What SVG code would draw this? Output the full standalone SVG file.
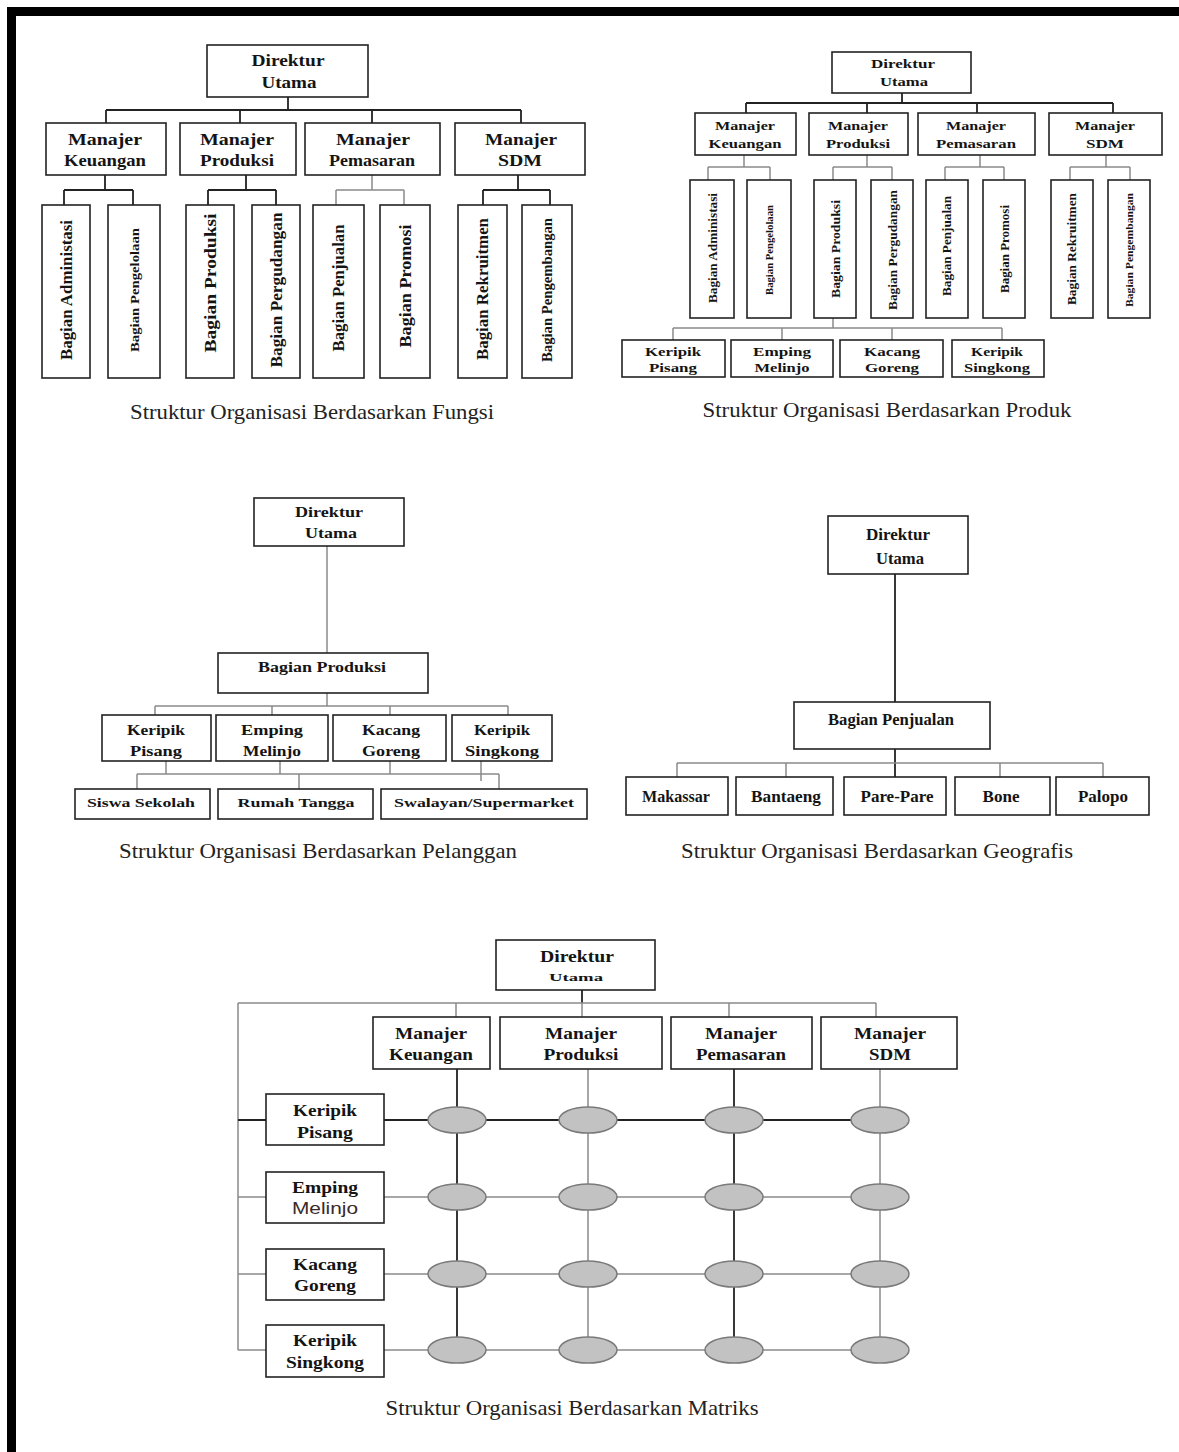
<svg xmlns="http://www.w3.org/2000/svg" width="1179" height="1452" viewBox="0 0 1179 1452">
<style>
.box{fill:#fff;stroke:#222;stroke-width:1.6}
.t{font-family:"Liberation Serif",serif;font-weight:bold;fill:#141414;text-anchor:middle}
.cap{font-family:"Liberation Serif",serif;font-size:21px;fill:#222;text-anchor:middle}
.ln{stroke:#222;stroke-width:1.8;fill:none}
.lg{stroke:#8a8a8a;stroke-width:1.5;fill:none}
.ell{fill:#c2c2c2;stroke:#7a7a7a;stroke-width:1.5}
</style>
<rect width="1179" height="1452" fill="#fff"/>
<rect x="7" y="7" width="1172" height="9" fill="#000"/>
<rect x="7" y="7" width="9" height="1445" fill="#000"/>

<g id="connectors">
<!-- Fungsi -->
<path class="ln" d="M288 97V110M106 110H521M106 110V123M240 110V123M372 110V123M521 110V123"/>
<path class="ln" d="M105 175V190M64 190H133M64 190V205M133 190V205"/>
<path class="ln" d="M246 175V190M208 190H276M208 190V205M276 190V205"/>
<path class="lg" d="M372 175V190M336 190H404M336 190V205M404 190V205"/>
<path class="ln" d="M518 175V190M483 190H550M483 190V205M550 190V205"/>
<!-- Produk -->
<path class="ln" d="M902 93V103M746 103H1113M746 103V113M867 103V113M977 103V113M1113 103V113"/>
<path class="lg" d="M744 155V167M708 167H770M708 167V180M770 167V180"/>
<path class="lg" d="M867 155V167M833 167H892M833 167V180M892 167V180"/>
<path class="lg" d="M980 155V167M945 167H1004M945 167V180M1004 167V180"/>
<path class="lg" d="M1106 155V167M1070 167H1130M1070 167V180M1130 167V180"/>
<path class="lg" d="M833 318V328M673 328H1002M673 328V340M782 328V340M892 328V340M1002 328V340"/>
<!-- Pelanggan -->
<path class="lg" d="M327 546V653M327 693V706M155 706H508M155 706V715M272 706V715M390 706V715M508 706V715"/>
<path class="lg" d="M166 761V774M280 761V774M390 761V774M481 761V781M137 774H499M137 774V789M299 774V789M499 774V789"/>
<!-- Geografis -->
<path class="ln" d="M895 574V702M895 749V777"/>
<path class="lg" d="M677 763H1103M677 763V777M786 763V777M1000 763V777M1103 763V777"/>
<!-- Matriks -->
<path class="ln" d="M582 990V1003"/>
<path class="lg" d="M238 1003H876M238 1003V1350M456 1003V1017M729 1003V1017M876 1003V1017M582 1003V1017"/>
<path class="ln" d="M238 1120H266M384 1120H880"/>
<path class="lg" d="M238 1197H266M384 1197H880M238 1274H266M384 1274H880M238 1350H266M384 1350H880"/>
<path class="ln" d="M457 1069V1350M734 1069V1350"/>
<path class="lg" d="M588 1069V1350M880 1069V1350"/>
</g>

<!-- ===== Fungsi ===== -->
<g id="f-dir"><rect class="box" x="207" y="45" width="161" height="52"/>
<text class="t" font-size="16" x="288" y="66" textLength="73" lengthAdjust="spacingAndGlyphs">Direktur</text>
<text class="t" font-size="16" x="289" y="88" textLength="55" lengthAdjust="spacingAndGlyphs">Utama</text></g>
<g id="f-keu"><rect class="box" x="46" y="123" width="120" height="52"/>
<text class="t" font-size="17" x="105" y="145" textLength="74" lengthAdjust="spacingAndGlyphs">Manajer</text>
<text class="t" font-size="17" x="105" y="166" textLength="82" lengthAdjust="spacingAndGlyphs">Keuangan</text></g>
<g id="f-prod"><rect class="box" x="180" y="123" width="116" height="52"/>
<text class="t" font-size="17" x="237" y="145" textLength="74" lengthAdjust="spacingAndGlyphs">Manajer</text>
<text class="t" font-size="17" x="237" y="166" textLength="74" lengthAdjust="spacingAndGlyphs">Produksi</text></g>
<g id="f-pem"><rect class="box" x="305" y="123" width="135" height="52"/>
<text class="t" font-size="17" x="373" y="145" textLength="74" lengthAdjust="spacingAndGlyphs">Manajer</text>
<text class="t" font-size="17" x="372" y="166" textLength="86" lengthAdjust="spacingAndGlyphs">Pemasaran</text></g>
<g id="f-sdm"><rect class="box" x="455" y="123" width="130" height="52"/>
<text class="t" font-size="17" x="521" y="145" textLength="72" lengthAdjust="spacingAndGlyphs">Manajer</text>
<text class="t" font-size="17" x="520" y="166" textLength="44" lengthAdjust="spacingAndGlyphs">SDM</text></g>

<g id="f-adm"><rect class="box" x="42" y="205" width="48" height="173"/>
<text class="t" font-size="17" transform="translate(66,290) rotate(-90)" y="6" textLength="140" lengthAdjust="spacingAndGlyphs">Bagian Administasi</text></g>
<g id="f-pgl"><rect class="box" x="108" y="205" width="52" height="173"/>
<text class="t" font-size="13" transform="translate(134,290) rotate(-90)" y="5" textLength="124" lengthAdjust="spacingAndGlyphs">Bagian Pengelolaan</text></g>
<g id="f-pro"><rect class="box" x="186" y="205" width="48" height="173"/>
<text class="t" font-size="17" transform="translate(210,283) rotate(-90)" y="6" textLength="139" lengthAdjust="spacingAndGlyphs">Bagian Produksi</text></g>
<g id="f-pgd"><rect class="box" x="252" y="205" width="48" height="173"/>
<text class="t" font-size="16" transform="translate(276,290) rotate(-90)" y="6" textLength="155" lengthAdjust="spacingAndGlyphs">Bagian Pergudangan</text></g>
<g id="f-pnj"><rect class="box" x="313" y="205" width="51" height="173"/>
<text class="t" font-size="16" transform="translate(338,288) rotate(-90)" y="6" textLength="127" lengthAdjust="spacingAndGlyphs">Bagian Penjualan</text></g>
<g id="f-prm"><rect class="box" x="380" y="205" width="50" height="173"/>
<text class="t" font-size="17" transform="translate(405,286) rotate(-90)" y="6" textLength="123" lengthAdjust="spacingAndGlyphs">Bagian Promosi</text></g>
<g id="f-rek"><rect class="box" x="458" y="205" width="49" height="173"/>
<text class="t" font-size="16" transform="translate(482,289) rotate(-90)" y="6" textLength="142" lengthAdjust="spacingAndGlyphs">Bagian Rekruitmen</text></g>
<g id="f-pgb"><rect class="box" x="522" y="205" width="50" height="173"/>
<text class="t" font-size="14" transform="translate(547,290) rotate(-90)" y="5" textLength="144" lengthAdjust="spacingAndGlyphs">Bagian Pengembangan</text></g>
<text class="cap" x="312" y="419" textLength="364" lengthAdjust="spacingAndGlyphs">Struktur Organisasi Berdasarkan Fungsi</text>

<!-- ===== Produk ===== -->
<g id="p-dir"><rect class="box" x="832" y="52" width="139" height="41"/>
<text class="t" font-size="13" x="903" y="68" textLength="64" lengthAdjust="spacingAndGlyphs">Direktur</text>
<text class="t" font-size="13" x="904" y="86" textLength="48" lengthAdjust="spacingAndGlyphs">Utama</text></g>
<g id="p-keu"><rect class="box" x="695" y="113" width="101" height="42"/>
<text class="t" font-size="12" x="745" y="130" textLength="60" lengthAdjust="spacingAndGlyphs">Manajer</text>
<text class="t" font-size="13" x="745" y="148" textLength="73" lengthAdjust="spacingAndGlyphs">Keuangan</text></g>
<g id="p-prod"><rect class="box" x="809" y="113" width="99" height="42"/>
<text class="t" font-size="12" x="858" y="130" textLength="60" lengthAdjust="spacingAndGlyphs">Manajer</text>
<text class="t" font-size="13" x="858" y="148" textLength="64" lengthAdjust="spacingAndGlyphs">Produksi</text></g>
<g id="p-pem"><rect class="box" x="918" y="113" width="117" height="42"/>
<text class="t" font-size="12" x="976" y="130" textLength="60" lengthAdjust="spacingAndGlyphs">Manajer</text>
<text class="t" font-size="13" x="976" y="148" textLength="80" lengthAdjust="spacingAndGlyphs">Pemasaran</text></g>
<g id="p-sdm"><rect class="box" x="1049" y="113" width="113" height="42"/>
<text class="t" font-size="12" x="1105" y="130" textLength="60" lengthAdjust="spacingAndGlyphs">Manajer</text>
<text class="t" font-size="13" x="1105" y="148" textLength="38" lengthAdjust="spacingAndGlyphs">SDM</text></g>

<g id="p-adm"><rect class="box" x="690" y="180" width="44" height="138"/>
<text class="t" font-size="13" transform="translate(712,248) rotate(-90)" y="5" textLength="110" lengthAdjust="spacingAndGlyphs">Bagian Administasi</text></g>
<g id="p-pgl"><rect class="box" x="747" y="180" width="44" height="138"/>
<text class="t" font-size="10" transform="translate(769,250) rotate(-90)" y="4" textLength="90" lengthAdjust="spacingAndGlyphs">Bagian Pengelolaan</text></g>
<g id="p-pro"><rect class="box" x="814" y="180" width="42" height="138"/>
<text class="t" font-size="13" transform="translate(835,249) rotate(-90)" y="5" textLength="98" lengthAdjust="spacingAndGlyphs">Bagian Produksi</text></g>
<g id="p-pgd"><rect class="box" x="871" y="180" width="42" height="138"/>
<text class="t" font-size="13" transform="translate(892,250) rotate(-90)" y="5" textLength="120" lengthAdjust="spacingAndGlyphs">Bagian Pergudangan</text></g>
<g id="p-pnj"><rect class="box" x="926" y="180" width="42" height="138"/>
<text class="t" font-size="12" transform="translate(947,246) rotate(-90)" y="4" textLength="100" lengthAdjust="spacingAndGlyphs">Bagian Penjualan</text></g>
<g id="p-prm"><rect class="box" x="983" y="180" width="42" height="138"/>
<text class="t" font-size="13" transform="translate(1004,249) rotate(-90)" y="5" textLength="88" lengthAdjust="spacingAndGlyphs">Bagian Promosi</text></g>
<g id="p-rek"><rect class="box" x="1051" y="180" width="42" height="138"/>
<text class="t" font-size="12" transform="translate(1072,249) rotate(-90)" y="4" textLength="112" lengthAdjust="spacingAndGlyphs">Bagian Rekruitmen</text></g>
<g id="p-pgb"><rect class="box" x="1108" y="180" width="42" height="138"/>
<text class="t" font-size="10" transform="translate(1129,250) rotate(-90)" y="4" textLength="114" lengthAdjust="spacingAndGlyphs">Bagian Pengembangan</text></g>

<g id="p-kp"><rect class="box" x="622" y="340" width="103" height="37"/>
<text class="t" font-size="13" x="673" y="356" textLength="56" lengthAdjust="spacingAndGlyphs">Keripik</text>
<text class="t" font-size="13" x="673" y="372" textLength="48" lengthAdjust="spacingAndGlyphs">Pisang</text></g>
<g id="p-em"><rect class="box" x="731" y="340" width="102" height="37"/>
<text class="t" font-size="13" x="782" y="356" textLength="58" lengthAdjust="spacingAndGlyphs">Emping</text>
<text class="t" font-size="13" x="782" y="372" textLength="55" lengthAdjust="spacingAndGlyphs">Melinjo</text></g>
<g id="p-kg"><rect class="box" x="840" y="340" width="103" height="37"/>
<text class="t" font-size="13" x="892" y="356" textLength="56" lengthAdjust="spacingAndGlyphs">Kacang</text>
<text class="t" font-size="13" x="892" y="372" textLength="54" lengthAdjust="spacingAndGlyphs">Goreng</text></g>
<g id="p-ks"><rect class="box" x="952" y="340" width="92" height="37"/>
<text class="t" font-size="13" x="997" y="356" textLength="52" lengthAdjust="spacingAndGlyphs">Keripik</text>
<text class="t" font-size="13" x="997" y="372" textLength="66" lengthAdjust="spacingAndGlyphs">Singkong</text></g>
<text class="cap" x="887" y="417" textLength="369" lengthAdjust="spacingAndGlyphs">Struktur Organisasi Berdasarkan Produk</text>

<!-- ===== Pelanggan ===== -->
<g id="c-dir"><rect class="box" x="254" y="498" width="150" height="48"/>
<text class="t" font-size="15" x="329" y="517" textLength="68" lengthAdjust="spacingAndGlyphs">Direktur</text>
<text class="t" font-size="15" x="331" y="538" textLength="52" lengthAdjust="spacingAndGlyphs">Utama</text></g>
<g id="c-bp"><rect class="box" x="218" y="653" width="210" height="40"/>
<text class="t" font-size="15" x="322" y="672" textLength="128" lengthAdjust="spacingAndGlyphs">Bagian Produksi</text></g>
<g id="c-kp"><rect class="box" x="102" y="715" width="109" height="46"/>
<text class="t" font-size="15" x="156" y="735" textLength="58" lengthAdjust="spacingAndGlyphs">Keripik</text>
<text class="t" font-size="15" x="156" y="756" textLength="52" lengthAdjust="spacingAndGlyphs">Pisang</text></g>
<g id="c-em"><rect class="box" x="216" y="715" width="112" height="46"/>
<text class="t" font-size="15" x="272" y="735" textLength="62" lengthAdjust="spacingAndGlyphs">Emping</text>
<text class="t" font-size="15" x="272" y="756" textLength="58" lengthAdjust="spacingAndGlyphs">Melinjo</text></g>
<g id="c-kg"><rect class="box" x="333" y="715" width="113" height="46"/>
<text class="t" font-size="15" x="391" y="735" textLength="58" lengthAdjust="spacingAndGlyphs">Kacang</text>
<text class="t" font-size="15" x="391" y="756" textLength="58" lengthAdjust="spacingAndGlyphs">Goreng</text></g>
<g id="c-ks"><rect class="box" x="452" y="715" width="100" height="46"/>
<text class="t" font-size="15" x="502" y="735" textLength="56" lengthAdjust="spacingAndGlyphs">Keripik</text>
<text class="t" font-size="15" x="502" y="756" textLength="74" lengthAdjust="spacingAndGlyphs">Singkong</text></g>
<g id="c-ss"><rect class="box" x="75" y="789" width="135" height="30"/>
<text class="t" font-size="13" x="141" y="807" textLength="108" lengthAdjust="spacingAndGlyphs">Siswa Sekolah</text></g>
<g id="c-rt"><rect class="box" x="218" y="789" width="155" height="30"/>
<text class="t" font-size="13" x="296" y="807" textLength="117" lengthAdjust="spacingAndGlyphs">Rumah Tangga</text></g>
<g id="c-sw"><rect class="box" x="381" y="789" width="206" height="30"/>
<text class="t" font-size="13" x="484" y="807" textLength="180" lengthAdjust="spacingAndGlyphs">Swalayan/Supermarket</text></g>
<text class="cap" x="318" y="858" textLength="398" lengthAdjust="spacingAndGlyphs">Struktur Organisasi Berdasarkan Pelanggan</text>

<!-- ===== Geografis ===== -->
<g id="g-dir"><rect class="box" x="828" y="516" width="140" height="58"/>
<text class="t" font-size="16" x="898" y="540" textLength="64" lengthAdjust="spacingAndGlyphs">Direktur</text>
<text class="t" font-size="16" x="900" y="564" textLength="48" lengthAdjust="spacingAndGlyphs" font-weight="normal">Utama</text></g>
<g id="g-bp"><rect class="box" x="794" y="702" width="196" height="47"/>
<text class="t" font-size="16" x="891" y="725" textLength="126" lengthAdjust="spacingAndGlyphs">Bagian Penjualan</text></g>
<g id="g-mk"><rect class="box" x="626" y="777" width="102" height="38"/>
<text class="t" font-size="17" x="676" y="802" textLength="68" lengthAdjust="spacingAndGlyphs">Makassar</text></g>
<g id="g-bt"><rect class="box" x="736" y="777" width="97" height="38"/>
<text class="t" font-size="17" x="786" y="802" textLength="70" lengthAdjust="spacingAndGlyphs">Bantaeng</text></g>
<g id="g-pp"><rect class="box" x="844" y="777" width="102" height="38"/>
<text class="t" font-size="17" x="897" y="802" textLength="73" lengthAdjust="spacingAndGlyphs">Pare-Pare</text></g>
<g id="g-bn"><rect class="box" x="955" y="777" width="95" height="38"/>
<text class="t" font-size="17" x="1001" y="802" textLength="37" lengthAdjust="spacingAndGlyphs">Bone</text></g>
<g id="g-pl"><rect class="box" x="1056" y="777" width="93" height="38"/>
<text class="t" font-size="17" x="1103" y="802" textLength="50" lengthAdjust="spacingAndGlyphs">Palopo</text></g>
<text class="cap" x="877" y="858" textLength="392" lengthAdjust="spacingAndGlyphs">Struktur Organisasi Berdasarkan Geografis</text>

<!-- ===== Matriks ===== -->
<g id="m-dir"><rect class="box" x="496" y="940" width="159" height="50"/>
<text class="t" font-size="17" x="577" y="962" textLength="74" lengthAdjust="spacingAndGlyphs">Direktur</text>
<text class="t" font-size="11" x="576" y="981" textLength="54" lengthAdjust="spacingAndGlyphs">Utama</text></g>
<g id="m-keu"><rect class="box" x="373" y="1017" width="117" height="52"/>
<text class="t" font-size="17" x="431" y="1039" textLength="72" lengthAdjust="spacingAndGlyphs">Manajer</text>
<text class="t" font-size="17" x="431" y="1060" textLength="84" lengthAdjust="spacingAndGlyphs">Keuangan</text></g>
<g id="m-prod"><rect class="box" x="500" y="1017" width="162" height="52"/>
<text class="t" font-size="17" x="581" y="1039" textLength="72" lengthAdjust="spacingAndGlyphs">Manajer</text>
<text class="t" font-size="17" x="581" y="1060" textLength="75" lengthAdjust="spacingAndGlyphs">Produksi</text></g>
<g id="m-pem"><rect class="box" x="671" y="1017" width="141" height="52"/>
<text class="t" font-size="17" x="741" y="1039" textLength="72" lengthAdjust="spacingAndGlyphs">Manajer</text>
<text class="t" font-size="17" x="741" y="1060" textLength="90" lengthAdjust="spacingAndGlyphs">Pemasaran</text></g>
<g id="m-sdm"><rect class="box" x="821" y="1017" width="136" height="52"/>
<text class="t" font-size="17" x="890" y="1039" textLength="72" lengthAdjust="spacingAndGlyphs">Manajer</text>
<text class="t" font-size="17" x="890" y="1060" textLength="42" lengthAdjust="spacingAndGlyphs">SDM</text></g>

<g id="m-kp"><rect class="box" x="266" y="1094" width="118" height="51"/>
<text class="t" font-size="17" x="325" y="1116" textLength="64" lengthAdjust="spacingAndGlyphs">Keripik</text>
<text class="t" font-size="17" x="325" y="1138" textLength="56" lengthAdjust="spacingAndGlyphs">Pisang</text></g>
<g id="m-em"><rect class="box" x="266" y="1172" width="118" height="51"/>
<text class="t" font-size="17" x="325" y="1193" textLength="66" lengthAdjust="spacingAndGlyphs">Emping</text>
<text x="325" y="1214" font-family="'Liberation Sans',Arial,sans-serif" font-size="17" fill="#3a2a2a" text-anchor="middle" textLength="66" lengthAdjust="spacingAndGlyphs">Melinjo</text></g>
<g id="m-kg"><rect class="box" x="266" y="1249" width="118" height="51"/>
<text class="t" font-size="17" x="325" y="1270" textLength="64" lengthAdjust="spacingAndGlyphs">Kacang</text>
<text class="t" font-size="17" x="325" y="1291" textLength="62" lengthAdjust="spacingAndGlyphs">Goreng</text></g>
<g id="m-ks"><rect class="box" x="266" y="1325" width="118" height="52"/>
<text class="t" font-size="17" x="325" y="1346" textLength="64" lengthAdjust="spacingAndGlyphs">Keripik</text>
<text class="t" font-size="17" x="325" y="1368" textLength="78" lengthAdjust="spacingAndGlyphs">Singkong</text></g>

<g id="m-cells">
<ellipse class="ell" cx="457" cy="1120" rx="29" ry="13"/><ellipse class="ell" cx="588" cy="1120" rx="29" ry="13"/><ellipse class="ell" cx="734" cy="1120" rx="29" ry="13"/><ellipse class="ell" cx="880" cy="1120" rx="29" ry="13"/>
<ellipse class="ell" cx="457" cy="1197" rx="29" ry="13"/><ellipse class="ell" cx="588" cy="1197" rx="29" ry="13"/><ellipse class="ell" cx="734" cy="1197" rx="29" ry="13"/><ellipse class="ell" cx="880" cy="1197" rx="29" ry="13"/>
<ellipse class="ell" cx="457" cy="1274" rx="29" ry="13"/><ellipse class="ell" cx="588" cy="1274" rx="29" ry="13"/><ellipse class="ell" cx="734" cy="1274" rx="29" ry="13"/><ellipse class="ell" cx="880" cy="1274" rx="29" ry="13"/>
<ellipse class="ell" cx="457" cy="1350" rx="29" ry="13"/><ellipse class="ell" cx="588" cy="1350" rx="29" ry="13"/><ellipse class="ell" cx="734" cy="1350" rx="29" ry="13"/><ellipse class="ell" cx="880" cy="1350" rx="29" ry="13"/>
</g>
<text class="cap" x="572" y="1415" textLength="373" lengthAdjust="spacingAndGlyphs">Struktur Organisasi Berdasarkan Matriks</text>
</svg>
